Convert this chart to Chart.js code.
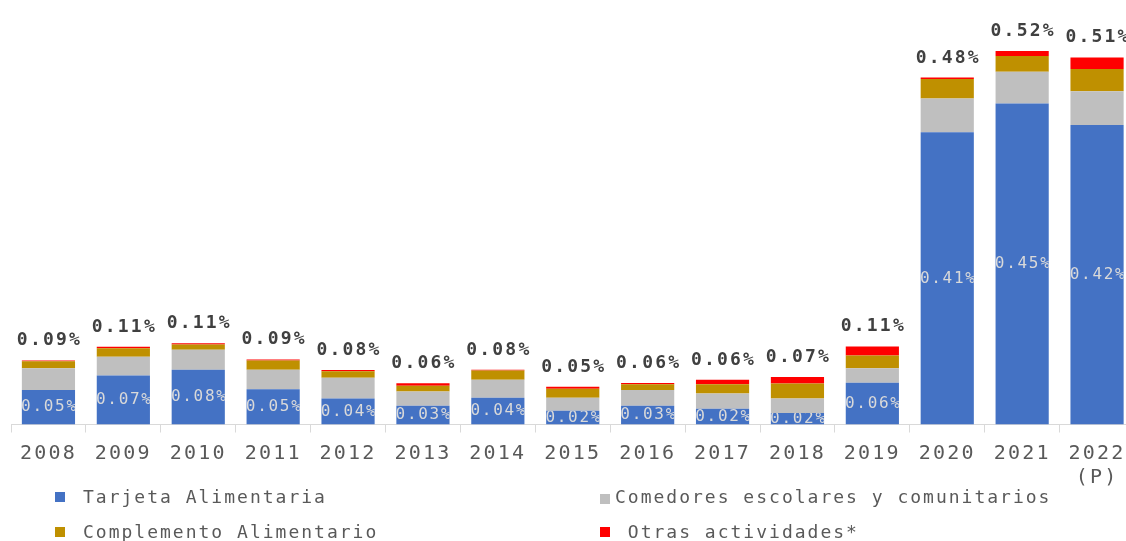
<!DOCTYPE html>
<html>
<head>
<meta charset="utf-8">
<script src="https://cdn.jsdelivr.net/npm/chart.js@4"></script>
<style>
    html, body { margin: 0; padding: 0; background: #fff; overflow: hidden; }
    #wrap { position: relative; width: 1146px; height: 541px; }
    .legend-item { position: absolute; font: 18px "DejaVu Sans Mono", monospace; letter-spacing: 2px; color: #595959; white-space: pre; line-height: 20px; }
    .legend-box { position: absolute; width: 10px; height: 10px; }
</style>
</head>
<body>
<div id="wrap">
    <canvas id="chart" width="1146" height="541"></canvas>
    <div id="legend"></div>
</div>
<script>
const years = ["2008" , "2009" , "2010" , "2011" , "2012" , "2013" , "2014" , "2015" , "2016" , "2017" , "2018" , "2019" , "2020" , "2021" , ["2022" , "(P)"]];

const tarjeta = [0.048 , 0.068 , 0.076 , 0.049 , 0.036 , 0.026 , 0.037 , 0.019 , 0.026 , 0.022 , 0.016 , 0.058 , 0.406 , 0.446 , 0.416];
const comedores = [0.030 , 0.026 , 0.028 , 0.027 , 0.029 , 0.020 , 0.025 , 0.018 , 0.022 , 0.021 , 0.020 , 0.020 , 0.047 , 0.044 , 0.047];
const complemento = [0.010 , 0.012 , 0.007 , 0.013 , 0.009 , 0.008 , 0.013 , 0.0125 , 0.008 , 0.013 , 0.021 , 0.018 , 0.027 , 0.022 , 0.031];
const otras = [0.001 , 0.002 , 0.002 , 0.0014 , 0.0018 , 0.0033 , 0.001 , 0.0028 , 0.0018 , 0.006 , 0.009 , 0.0125 , 0.002 , 0.007 , 0.016];

const seriesNames = ["Tarjeta Alimentaria" , "Comedores escolares y comunitarios" , "Complemento Alimentario" , " Otras actividades*"];
const colors = ["#4472C4" , "#BFBFBF" , "#BF9000" , "#FF0000"];

const fontFamily = "'DejaVu Sans Mono', monospace";
Chart.defaults.font.family = fontFamily;

// legend laid out in two columns like the original
const legendSpots = [
    { box: [55 , 492] , text: [83 , 487] } ,
    { box: [600 , 494] , text: [615 , 487] } ,
    { box: [55 , 527] , text: [83 , 522] } ,
    { box: [600 , 527] , text: [615 , 522] }
];
const legendOrder = [0 , 1 , 2 , 3];
const legend = document.getElementById("legend");
legendOrder.forEach((s , i) => {
    const spot = legendSpots[i];
    const box = document.createElement("div");
    box.className = "legend-box";
    box.style.left = spot.box[0] + "px";
    box.style.top = spot.box[1] + "px";
    box.style.background = colors[s];
    legend.appendChild(box);
    const label = document.createElement("div");
    label.className = "legend-item";
    label.style.left = spot.text[0] + "px";
    label.style.top = spot.text[1] + "px";
    label.textContent = seriesNames[s];
    legend.appendChild(label);
});

const spacingPlugin = {
    id: "spacing" ,
    beforeDraw(chart) {
        chart.ctx.letterSpacing = "2.2px";
    }
};

const labelPlugin = {
    id: "barLabels" ,
    afterDatasetsDraw(chart) {
        const ctx = chart.ctx;
        const first = chart.getDatasetMeta(0);
        const last = chart.getDatasetMeta(chart.data.datasets.length - 1);

        // value of the first series inside its segment
        first.data.forEach((bar , i) => {
            const p = bar.getProps(["x" , "y" , "base" , "width"] , true);
            ctx.save();
            ctx.beginPath();
            ctx.rect(p.x - p.width / 2 , p.y , p.width , p.base - p.y);
            ctx.clip();
            ctx.letterSpacing = "1.7px";
            ctx.font = "16px " + fontFamily;
            ctx.fillStyle = "#D9D9D9";
            ctx.textAlign = "center";
            ctx.textBaseline = "middle";
            ctx.fillText(tarjeta[i].toFixed(2) + "%" , p.x + 1 , (p.y + p.base) / 2);
            ctx.restore();
        });

        // total on top of every stack
        last.data.forEach((bar , i) => {
            const p = bar.getProps(["x" , "y"] , true);
            const total = tarjeta[i] + comedores[i] + complemento[i] + otras[i];
            ctx.save();
            ctx.letterSpacing = "2.2px";
            ctx.font = "bold 18px " + fontFamily;
            ctx.fillStyle = "#404040";
            ctx.textAlign = "center";
            ctx.textBaseline = "alphabetic";
            ctx.fillText(total.toFixed(2) + "%" , p.x + 1 , p.y - 15);
            ctx.restore();
        });
    }
};

const data = [tarjeta , comedores , complemento , otras];

new Chart(document.getElementById("chart") , {
    type: "bar" ,
    data: {
        labels: years ,
        datasets: data.map((values , i) => ({
            label: seriesNames[i] ,
            data: values ,
            backgroundColor: colors[i] ,
            borderWidth: 0 ,
            barPercentage: 0.71 ,
            categoryPercentage: 1
        }))
    } ,
    options: {
        responsive: false ,
        animation: false ,
        layout: {
            padding: { left: 11 , right: 11.5 , top: 7 , bottom: 0 }
        } ,
        plugins: {
            legend: { display: false } ,
            tooltip: { enabled: false }
        } ,
        scales: {
            x: {
                stacked: true ,
                grid: {
                    display: true ,
                    drawOnChartArea: false ,
                    drawTicks: true ,
                    tickLength: 8 ,
                    color: "#D9D9D9" ,
                    offset: true
                } ,
                border: { display: true , color: "#D9D9D9" } ,
                ticks: {
                    color: "#595959" ,
                    font: { size: 20 } ,
                    padding: 9 ,
                    maxRotation: 0 ,
                    autoSkip: false
                } ,
                afterFit(scale) {
                    scale.height = 116.5;
                }
            } ,
            y: {
                stacked: true ,
                display: false ,
                min: 0 ,
                max: 0.58
            }
        }
    } ,
    plugins: [spacingPlugin , labelPlugin]
});
</script>
</body>
</html>
